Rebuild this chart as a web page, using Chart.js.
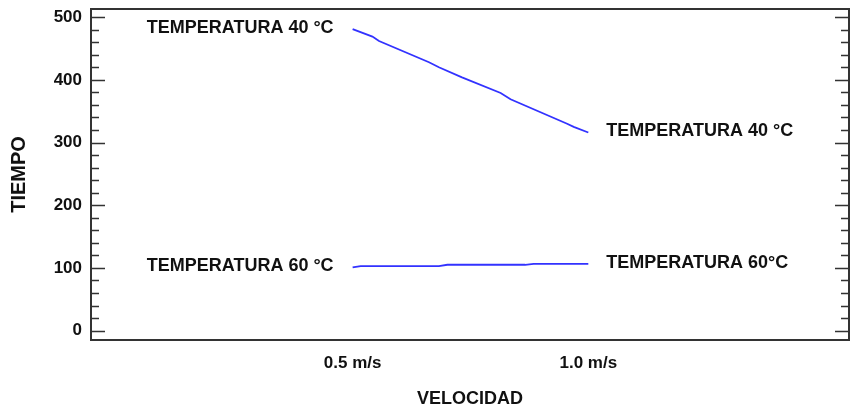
<!DOCTYPE html>
<html>
<head>
<meta charset="utf-8">
<script src="https://cdn.jsdelivr.net/npm/chart.js@4"></script>
<style>
  html, body { margin: 0; padding: 0; background: #fff; }
  #wrap { width: 851px; height: 410px; }
</style>
</head>
<body>
<div id="wrap"><canvas id="chart" width="851" height="410"></canvas></div>
<script>
// values
const velocity40 = [0.5, 0.542, 0.556, 0.662, 0.683, 0.732, 0.814, 0.835, 0.955, 0.969, 1.0];
const tiempo40   = [481, 469, 462, 428, 420, 404, 379, 369, 330, 325, 316];
const velocity60 = [0.5, 0.517, 0.683, 0.701, 0.866, 0.884, 1.0];
const tiempo60   = [101, 103, 103, 105, 105, 106.5, 106.5];

const xTickValues = [0.5, 1.0];
const xTickLabels = ['0.5 m/s', '1.0 m/s'];
const yMajorTicks = [0, 100, 200, 300, 400, 500];
const yMinorStep = 20;

const leftLabels  = ['TEMPERATURA 40 °C', 'TEMPERATURA 60 °C'];
const rightLabels = ['TEMPERATURA 40 °C', 'TEMPERATURA 60°C'];

const FONT = '"Liberation Sans", Arial, sans-serif';
const lineColor = 'rgb(50, 50, 255)';
const axisColor = '#333';

const toPoints = (xs, ys) => xs.map((x, i) => ({ x: x, y: ys[i] }));

// frame, inward ticks and the end labels
const framePlugin = {
  id: 'frame',
  afterDraw(chart) {
    const ctx = chart.ctx;
    const a = chart.chartArea;
    const y = chart.scales.y;
    ctx.save();
    ctx.strokeStyle = axisColor;
    ctx.lineWidth = 2;
    ctx.strokeRect(a.left, a.top, a.right - a.left, a.bottom - a.top);

    ctx.lineWidth = 1.5;
    for (let v = 0; v <= 500; v += yMinorStep) {
      const py = Math.round(y.getPixelForValue(v)) + 0.5;
      const len = v % 100 === 0 ? 14 : 8;
      ctx.beginPath();
      ctx.moveTo(a.left, py); ctx.lineTo(a.left + len, py);
      ctx.moveTo(a.right, py); ctx.lineTo(a.right - len, py);
      ctx.stroke();
    }

    ctx.fillStyle = '#111';
    ctx.font = 'bold 18px ' + FONT;
    ctx.textBaseline = 'middle';
    chart.data.datasets.forEach((ds, i) => {
      const first = ds.data[0];
      const last = ds.data[ds.data.length - 1];
      const x0 = chart.scales.x.getPixelForValue(first.x);
      const y0 = y.getPixelForValue(first.y);
      const x1 = chart.scales.x.getPixelForValue(last.x);
      const y1 = y.getPixelForValue(last.y);
      ctx.textAlign = 'right';
      ctx.fillText(leftLabels[i], x0 - 19, y0 - 1);
      ctx.textAlign = 'left';
      ctx.fillText(rightLabels[i], x1 + 18, y1 - 1);
    });
    ctx.restore();
  }
};

new Chart(document.getElementById('chart'), {
  type: 'line',
  data: {
    datasets: [
      { data: toPoints(velocity40, tiempo40), borderColor: lineColor, borderWidth: 1.8, pointRadius: 0, tension: 0 },
      { data: toPoints(velocity60, tiempo60), borderColor: lineColor, borderWidth: 1.8, pointRadius: 0, tension: 0 }
    ]
  },
  options: {
    responsive: false,
    animation: false,
    events: [],
    layout: { padding: { top: 9, right: 2, left: 0, bottom: 0 } },
    plugins: { legend: { display: false }, tooltip: { enabled: false } },
    scales: {
      x: {
        type: 'linear',
        min: -0.055,
        max: 1.553,
        grid: { display: false, drawTicks: false },
        border: { display: false },
        afterBuildTicks: (scale) => { scale.ticks = xTickValues.map(v => ({ value: v })); },
        afterFit: (scale) => { scale.height = 70; scale.paddingLeft = 0; scale.paddingRight = 0; },
        ticks: {
          padding: 13,
          color: '#111',
          font: { family: FONT, size: 17, weight: 'bold' },
          callback: (v) => xTickLabels[xTickValues.indexOf(v)] ?? ''
        },
        title: {
          display: true,
          text: 'VELOCIDAD',
          color: '#111',
          padding: { top: 0, bottom: 0 },
          font: { family: FONT, size: 18, weight: 'bold' }
        }
      },
      y: {
        min: -15,
        max: 513,
        grid: { display: false, drawTicks: false },
        border: { display: false },
        afterBuildTicks: (scale) => { scale.ticks = yMajorTicks.map(v => ({ value: v })); },
        afterFit: (scale) => { scale.width = 91; scale.paddingTop = 0; scale.paddingBottom = 0; },
        ticks: {
          padding: 9,
          color: '#111',
          font: { family: FONT, size: 17, weight: 'bold' }
        },
        title: {
          display: true,
          text: 'TIEMPO',
          color: '#111',
          padding: { top: 7, bottom: 0 },
          font: { family: FONT, size: 20, weight: 'bold' }
        }
      }
    }
  },
  plugins: [framePlugin]
});
</script>
</body>
</html>
